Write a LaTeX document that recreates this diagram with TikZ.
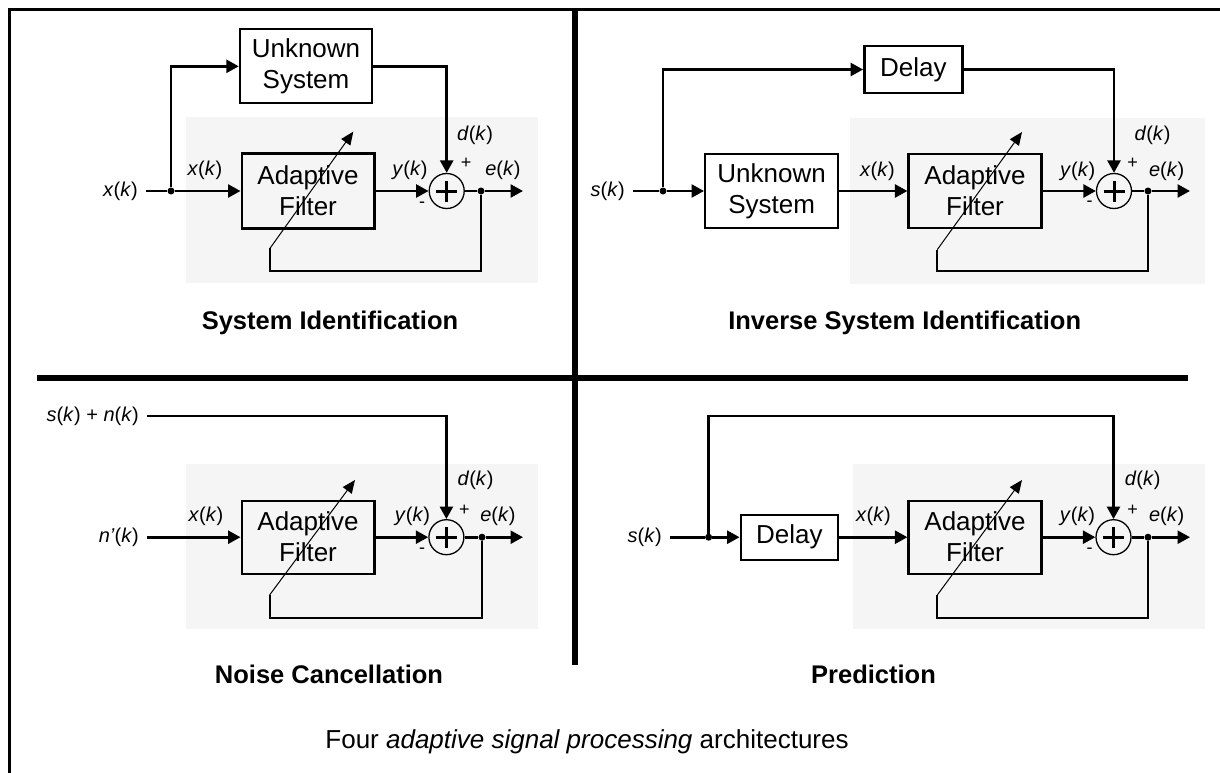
\documentclass[tikz,border=0pt]{standalone}
\usepackage{fontspec}
\setmainfont{Liberation Sans}
\usetikzlibrary{arrows.meta}
\definecolor{panelgray}{HTML}{F5F5F5}
% signal name with italic variable and upright brackets
\newcommand{\sg}[1]{\textit{#1}(\textit{k})}

\begin{document}
\begin{tikzpicture}[x=1pt,y=-1pt,
  sig/.style={line width=2.6pt},
  arr/.style={sig,-{Triangle[length=12.5pt,width=13pt]}},
  fbk/.style={line width=1.8pt},
  adj/.style={line width=1pt,-{Triangle[length=13pt,width=11pt]}},
  blk/.style={draw,line width=2.4pt,align=center,inner sep=0pt,
    font=\fontsize{26}{31}\selectfont},
  sumnode/.style={draw,circle,line width=1.3pt,minimum size=35pt,inner sep=0pt},
  dotnode/.style={circle,fill,inner sep=0pt,minimum size=7pt},
  lbl/.style={inner sep=0pt,font=\fontsize{20}{23}\selectfont},
  inlbl/.style={lbl,anchor=east,inner xsep=8pt},
  sgn/.style={inner sep=0pt,font=\fontsize{18}{20}\selectfont},
  ttl/.style={font=\bfseries\fontsize{25.5}{28}\selectfont},
  capt/.style={font=\fontsize{26}{29}\selectfont},
  bg/.style={fill=panelgray},
  frame/.style={line width=3pt},
  sep/.style={line width=5.5pt},
]
\useasboundingbox (0,0) rectangle (1220,773);

% ---------- shaded adaptive sections ----------
\fill[bg] (186,117) rectangle (538,283);
\fill[bg] (849.8,118.3) rectangle (1204.5,283.9);
\fill[bg] (186,464.2) rectangle (538,629.3);
\fill[bg] (853.2,464.2) rectangle (1204.5,629.3);

% ---------- frame and dividers ----------
\draw[frame] (9.5,773) -- (9.5,9.5) -- (1220,9.5);
\draw[sep] (575,9.5) -- (575,665);
\draw[sep] (37,378) -- (1188,378);

% ========== System Identification ==========
\node[blk,minimum width=132pt,minimum height=74pt] (us1) at (306,66.3) {Unknown\\System};
\node[blk,minimum width=132.6pt,minimum height=75pt] (af1) at (308,191) {Adaptive\\Filter};
\node[sumnode] (s1) at (446.7,191) {};
\node[inlbl] (in1) at (146,191) {\sg{x}};
\node[dotnode] (b1) at (171,191) {};
\node[dotnode] (o1) at (481,191) {};
\coordinate (e1) at (523,191);
\coordinate (f1a) at (270,270.7);
\coordinate (f1b) at (270,248.3);
\coordinate (f1t) at (353.3,131.7);
\draw[sig] (in1) -- (b1);
\draw[arr] (b1) -- (af1);
\draw[arr] (b1) |- (us1);
\draw[arr] (us1) -| (s1);
\draw[arr] (af1) -- (s1);
\draw[sig] (s1) -- (o1);
\draw[arr] (o1) -- (e1);
\draw[fbk] (o1) |- (f1a) -- (f1b);
\draw[adj] (f1b) -- (f1t);
\node[lbl] (x1) at (205,170) {\sg{x}};
\node[lbl] (d1) at (475,135) {\sg{d}};
\node[lbl] (y1) at (410,170) {\sg{y}};
\node[lbl] (er1) at (503,170) {\sg{e}};
\node[sgn] (p1) at (466,163) {+};
\node[sgn] (m1) at (422,205) {-};

% ========== Inverse System Identification ==========
\node[blk,minimum width=98pt,minimum height=46.6pt] (dl2) at (913.3,69.5) {Delay};
\node[blk,minimum width=132.8pt,minimum height=74.5pt] (us2) at (771.6,191) {Unknown\\System};
\node[blk,minimum width=132.8pt,minimum height=74.5pt] (af2) at (975,191) {Adaptive\\Filter};
\node[sumnode] (s2) at (1114,191) {};
\node[inlbl] (in2) at (633,191) {\sg{s}};
\node[dotnode] (b2) at (663,191) {};
\node[dotnode] (o2) at (1148,191) {};
\coordinate (e2) at (1190,191);
\coordinate (f2a) at (937.3,270.6);
\coordinate (f2b) at (937.3,249.6);
\coordinate (f2t) at (1022,132);
\draw[sig] (in2) -- (b2);
\draw[arr] (b2) |- (dl2);
\draw[arr] (b2) -- (us2);
\draw[arr] (us2) -- (af2);
\draw[arr] (dl2) -| (s2);
\draw[arr] (af2) -- (s2);
\draw[sig] (s2) -- (o2);
\draw[arr] (o2) -- (e2);
\draw[fbk] (o2) |- (f2a) -- (f2b);
\draw[adj] (f2b) -- (f2t);
\node[lbl] (x2) at (877.5,171.2) {\sg{x}};
\node[lbl] (d2) at (1152.5,135.4) {\sg{d}};
\node[lbl] (y2) at (1077.7,171.2) {\sg{y}};
\node[lbl] (er2) at (1166.7,171.2) {\sg{e}};
\node[sgn] (p2) at (1132.6,163.8) {+};
\node[sgn] (m2) at (1089.7,204) {-};

% ========== Noise Cancellation ==========
\node[blk,minimum width=132.6pt,minimum height=73pt] (af3) at (308,537.2) {Adaptive\\Filter};
\node[sumnode] (s3) at (446.4,537.2) {};
\node[inlbl] (in3a) at (147,416) {\sg{s} + \sg{n}};
\node[inlbl] (in3b) at (147,537.2) {\textit{n’}(\textit{k})};
\node[dotnode] (o3) at (482,537.2) {};
\coordinate (e3) at (523,537.2);
\coordinate (f3a) at (269.6,618);
\coordinate (f3b) at (269.6,595);
\coordinate (f3t) at (355,480);
\draw[arr] (in3a) -| (s3);
\draw[arr] (in3b) -- (af3);
\draw[arr] (af3) -- (s3);
\draw[sig] (s3) -- (o3);
\draw[arr] (o3) -- (e3);
\draw[fbk] (o3) |- (f3a) -- (f3b);
\draw[adj] (f3b) -- (f3t);
\node[lbl] (x3) at (206,516.6) {\sg{x}};
\node[lbl] (d3) at (475.5,480) {\sg{d}};
\node[lbl] (y3) at (412.5,516.6) {\sg{y}};
\node[lbl] (er3) at (498,516.6) {\sg{e}};
\node[sgn] (p3) at (464.3,510.2) {+};
\node[sgn] (m3) at (422,551) {-};

% ========== Prediction ==========
\node[blk,minimum width=97.3pt,minimum height=45pt] (dl4) at (789.4,537.2) {Delay};
\node[blk,minimum width=132.8pt,minimum height=73pt] (af4) at (975,537.2) {Adaptive\\Filter};
\node[sumnode] (s4) at (1113.5,537.2) {};
\node[inlbl] (in4) at (670,537.2) {\sg{s}};
\node[dotnode] (b4) at (708.6,537.2) {};
\node[dotnode] (o4) at (1148,537.2) {};
\coordinate (t4) at (708.6,416);
\coordinate (e4) at (1190,537.2);
\coordinate (f4a) at (937.3,618);
\coordinate (f4b) at (937.3,595);
\coordinate (f4t) at (1022,480);
\draw[sig] (in4) -- (b4);
\draw[arr] (b4) -- (t4) -| (s4);
\draw[arr] (b4) -- (dl4);
\draw[arr] (dl4) -- (af4);
\draw[arr] (af4) -- (s4);
\draw[sig] (s4) -- (o4);
\draw[arr] (o4) -- (e4);
\draw[fbk] (o4) |- (f4a) -- (f4b);
\draw[adj] (f4b) -- (f4t);
\node[lbl] (x4) at (873.4,516.6) {\sg{x}};
\node[lbl] (d4) at (1142.7,480) {\sg{d}};
\node[lbl] (y4) at (1077.5,516.6) {\sg{y}};
\node[lbl] (er4) at (1166.7,516.6) {\sg{e}};
\node[sgn] (p4) at (1132.6,510.2) {+};
\node[sgn] (m4) at (1089.7,551) {-};

% plus signs inside the summing junctions
\foreach \s in {s1,s2,s3,s4}
  \draw[line width=3pt] ([xshift=-10.5pt]\s.center) -- ([xshift=10.5pt]\s.center)
                        ([yshift=-10.5pt]\s.center) -- ([yshift=10.5pt]\s.center);

% ---------- titles ----------
\node[ttl] (t1) at (330,323) {System Identification};
\node[ttl] (t2) at (904.7,323) {Inverse System Identification};
\node[ttl] (t3) at (329,674) {Noise Cancellation};
\node[ttl] (t4t) at (873.5,674) {Prediction};
\node[capt] (cap) at (587,742) {Four \textit{adaptive signal processing} architectures};
\end{tikzpicture}
\end{document}
